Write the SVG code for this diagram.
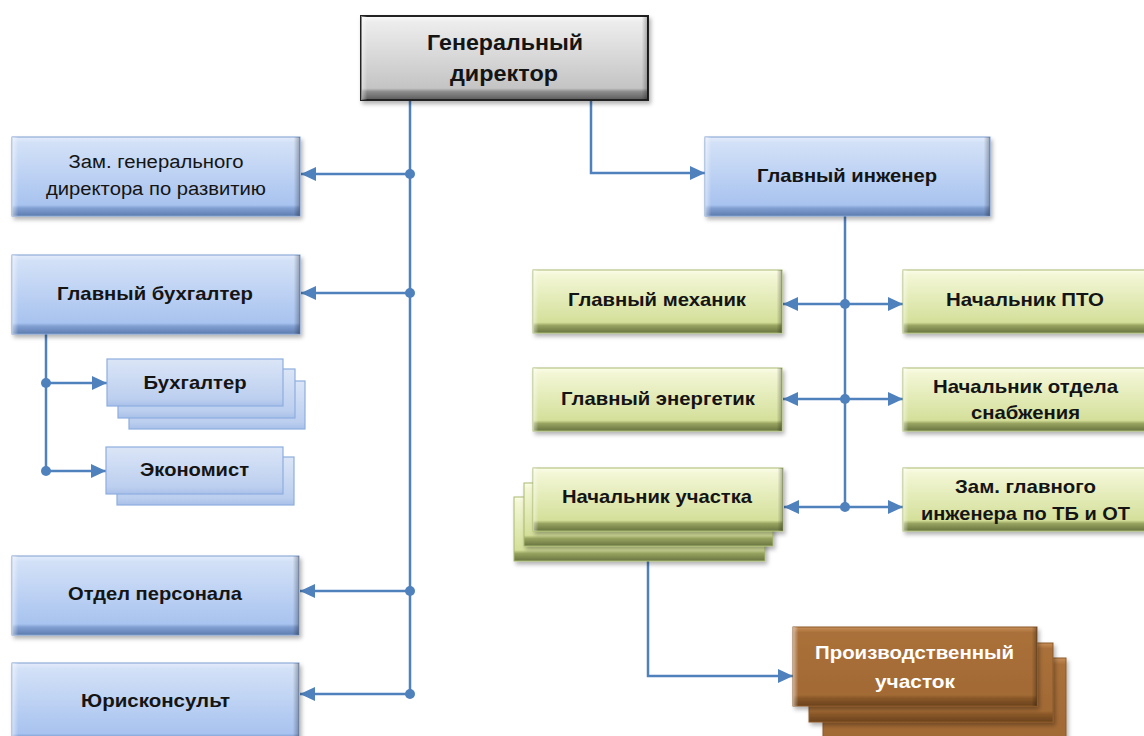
<svg xmlns="http://www.w3.org/2000/svg" width="1144" height="736" viewBox="0 0 1144 736">
<defs>
<linearGradient id="gBlue" x1="0" y1="0" x2="0" y2="1"><stop offset="0" stop-color="#e4ecfa"/><stop offset="0.07" stop-color="#d3e1f7"/><stop offset="0.86" stop-color="#a8c3ef"/><stop offset="0.9" stop-color="#829fd2"/><stop offset="1" stop-color="#5d7cae"/></linearGradient>
<linearGradient id="gBlueFlat" x1="0" y1="0" x2="0" y2="1"><stop offset="0" stop-color="#dbe5f7"/><stop offset="0.85" stop-color="#bccfef"/><stop offset="1" stop-color="#a9c0e8"/></linearGradient>
<linearGradient id="gGreen" x1="0" y1="0" x2="0" y2="1"><stop offset="0" stop-color="#fcfdea"/><stop offset="0.08" stop-color="#f3f7d6"/><stop offset="0.83" stop-color="#d4df9a"/><stop offset="0.88" stop-color="#98a460"/><stop offset="1" stop-color="#687340"/></linearGradient>
<linearGradient id="gGray" x1="0" y1="0" x2="0" y2="1"><stop offset="0" stop-color="#fbfbfb"/><stop offset="0.07" stop-color="#ededed"/><stop offset="0.86" stop-color="#c4c4c4"/><stop offset="0.9" stop-color="#8c8c8c"/><stop offset="1" stop-color="#5a5a5a"/></linearGradient>
<linearGradient id="gBrown" x1="0" y1="0" x2="0" y2="1"><stop offset="0" stop-color="#c8905a"/><stop offset="0.07" stop-color="#aa703a"/><stop offset="0.86" stop-color="#a26a35"/><stop offset="0.9" stop-color="#8a5828"/><stop offset="1" stop-color="#6a421c"/></linearGradient>
<linearGradient id="gSide" x1="0" y1="0" x2="1" y2="0"><stop offset="0" stop-color="#fff" stop-opacity="0.5"/><stop offset="0.022" stop-color="#fff" stop-opacity="0"/><stop offset="0.978" stop-color="#000" stop-opacity="0"/><stop offset="1" stop-color="#000" stop-opacity="0.3"/></linearGradient>
<filter id="sh" x="-5%" y="-10%" width="115%" height="130%"><feDropShadow dx="2" dy="3" stdDeviation="2" flood-color="#000" flood-opacity="0.3"/></filter>
<marker id="arr" markerUnits="userSpaceOnUse" markerWidth="15" markerHeight="14" refX="15" refY="7" orient="auto"><path d="M0,0 L15,7 L0,14 z" fill="#4f81bd"/></marker>
<style>
.blue{fill:url(#gBlue);stroke:#7f9ed1;stroke-width:1;filter:url(#sh)}
.bflat{fill:url(#gBlueFlat);stroke:#8eaee0;stroke-width:1.2}
.green{fill:url(#gGreen);stroke:#a7ba6e;stroke-width:1;filter:url(#sh)}
.gray{fill:url(#gGray);stroke:#222;stroke-width:2;filter:url(#sh)}
.brown{fill:url(#gBrown);stroke:#8b5a2b;stroke-width:1;filter:url(#sh)}
.side{fill:url(#gSide)}
.t{font-family:"Liberation Sans",Arial,sans-serif;font-size:19px;font-weight:bold;text-anchor:middle;fill:#141414}
.n{font-weight:normal;font-size:18px}
.w{fill:#fff}
.c{fill:none;stroke:#4f81bd;stroke-width:2.5}
.a{marker-end:url(#arr)}
.d{fill:#4f81bd}
</style>
</defs>
<rect width="1144" height="736" fill="#fff"/>

<g id="connectors">
<path class="c" d="M410 100 V694"/>
<path class="c a" d="M410 174 H301"/>
<path class="c a" d="M410 293 H301"/>
<path class="c a" d="M410 591 H300"/>
<path class="c a" d="M410 694 H300"/>
<path class="c a" d="M591 100 V173 H705"/>
<path class="c" d="M46 334 V471"/>
<path class="c a" d="M46 383 H107"/>
<path class="c a" d="M46 471 H106"/>
<path class="c" d="M845 216 V507"/>
<path class="c a" d="M845 304 H783"/>
<path class="c a" d="M845 304 H903"/>
<path class="c a" d="M845 399 H783"/>
<path class="c a" d="M845 399 H903"/>
<path class="c a" d="M845 507 H784"/>
<path class="c a" d="M845 507 H903"/>
<path class="c a" d="M648 561 V676 H793"/>
<circle class="d" cx="410" cy="174" r="5"/>
<circle class="d" cx="410" cy="293" r="5"/>
<circle class="d" cx="410" cy="591" r="5"/>
<circle class="d" cx="410" cy="694" r="5"/>
<circle class="d" cx="46" cy="383" r="5"/>
<circle class="d" cx="46" cy="471" r="5"/>
<circle class="d" cx="845" cy="304" r="5"/>
<circle class="d" cx="845" cy="399" r="5"/>
<circle class="d" cx="845" cy="507" r="5"/>
</g>

<g id="gen-director">
<rect class="gray" x="361" y="16" width="287" height="84"/>
<rect class="side" x="361" y="16" width="287" height="84"/>
<text class="t" x="505" y="50" style="font-size:22px" textLength="156" lengthAdjust="spacingAndGlyphs">Генеральный</text>
<text class="t" x="504" y="81" style="font-size:22px" textLength="108" lengthAdjust="spacingAndGlyphs">директор</text>
</g>

<g id="zam-gen">
<rect class="blue" x="12" y="137" width="288" height="79"/>
<rect class="side" x="12" y="137" width="288" height="79"/>
<text class="t n" x="156" y="168" textLength="175" lengthAdjust="spacingAndGlyphs">Зам. генерального</text>
<text class="t n" x="156" y="195" textLength="220" lengthAdjust="spacingAndGlyphs">директора по развитию</text>
</g>

<g id="gl-buh">
<rect class="blue" x="12" y="255" width="288" height="79"/>
<rect class="side" x="12" y="255" width="288" height="79"/>
<text class="t" x="155" y="300" textLength="196" lengthAdjust="spacingAndGlyphs">Главный бухгалтер</text>
</g>

<g id="buhgalter">
<rect class="bflat" x="129" y="381" width="176" height="48"/>
<rect class="bflat" x="118" y="369" width="177" height="49"/>
<rect class="bflat" x="107" y="359" width="176" height="47"/>
<text class="t" x="195" y="389" textLength="103" lengthAdjust="spacingAndGlyphs">Бухгалтер</text>
</g>

<g id="ekonomist">
<rect class="bflat" x="117" y="457" width="177" height="48"/>
<rect class="bflat" x="106" y="447" width="177" height="47"/>
<text class="t" x="194.5" y="476" textLength="109" lengthAdjust="spacingAndGlyphs">Экономист</text>
</g>

<g id="otdel-personala">
<rect class="blue" x="12" y="556" width="287" height="79"/>
<rect class="side" x="12" y="556" width="287" height="79"/>
<text class="t" x="155" y="600" textLength="174" lengthAdjust="spacingAndGlyphs">Отдел персонала</text>
</g>

<g id="yuriskonsult">
<rect class="blue" x="12" y="663" width="287" height="82"/>
<rect class="side" x="12" y="663" width="287" height="82"/>
<text class="t" x="155.5" y="707" textLength="149" lengthAdjust="spacingAndGlyphs">Юрисконсульт</text>
</g>

<g id="gl-inzhener">
<rect class="blue" x="705" y="137" width="285" height="79"/>
<rect class="side" x="705" y="137" width="285" height="79"/>
<text class="t" x="847" y="182" textLength="180" lengthAdjust="spacingAndGlyphs">Главный инженер</text>
</g>

<g id="gl-mehanik">
<rect class="green" x="533" y="270" width="249" height="63"/>
<rect class="side" x="533" y="270" width="249" height="63"/>
<text class="t" x="657" y="306" textLength="178" lengthAdjust="spacingAndGlyphs">Главный механик</text>
</g>

<g id="nach-pto">
<rect class="green" x="903" y="270" width="250" height="63"/>
<rect class="side" x="903" y="270" width="250" height="63"/>
<text class="t" x="1025" y="306" textLength="158" lengthAdjust="spacingAndGlyphs">Начальник ПТО</text>
</g>

<g id="gl-energetik">
<rect class="green" x="533" y="368" width="249" height="63"/>
<rect class="side" x="533" y="368" width="249" height="63"/>
<text class="t" x="658" y="405" textLength="194" lengthAdjust="spacingAndGlyphs">Главный энергетик</text>
</g>

<g id="nach-snabzheniya">
<rect class="green" x="903" y="368" width="250" height="63"/>
<rect class="side" x="903" y="368" width="250" height="63"/>
<text class="t" x="1025.5" y="393" textLength="185" lengthAdjust="spacingAndGlyphs">Начальник отдела</text>
<text class="t" x="1025.5" y="419" textLength="109" lengthAdjust="spacingAndGlyphs">снабжения</text>
</g>

<g id="nach-uchastka">
<rect class="green" x="514" y="497" width="251" height="64"/>
<rect class="green" x="524" y="483" width="249" height="63"/>
<rect class="green" x="533" y="468" width="250" height="63"/>
<rect class="side" x="533" y="468" width="250" height="63"/>
<text class="t" x="657" y="503" textLength="190" lengthAdjust="spacingAndGlyphs">Начальник участка</text>
</g>

<g id="zam-gl-inzh">
<rect class="green" x="903" y="468" width="250" height="63"/>
<rect class="side" x="903" y="468" width="250" height="63"/>
<text class="t" x="1025.5" y="493" textLength="141" lengthAdjust="spacingAndGlyphs">Зам. главного</text>
<text class="t" x="1025.5" y="520" textLength="209" lengthAdjust="spacingAndGlyphs">инженера по ТБ и ОТ</text>
</g>

<g id="proizv-uchastok">
<rect class="brown" x="823" y="658" width="243" height="90"/>
<rect class="brown" x="809" y="643" width="244" height="79"/>
<rect class="brown" x="793" y="627" width="244" height="79"/>
<rect class="side" x="793" y="627" width="244" height="79"/>
<text class="t w" x="914.5" y="659" textLength="199" lengthAdjust="spacingAndGlyphs">Производственный</text>
<text class="t w" x="915" y="688" textLength="80" lengthAdjust="spacingAndGlyphs">участок</text>
</g>
</svg>
